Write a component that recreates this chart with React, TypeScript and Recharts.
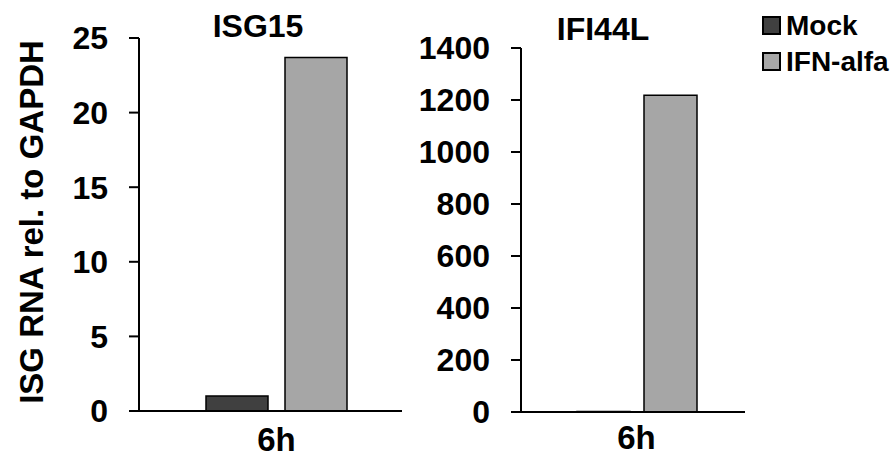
import { BarChart, Bar, XAxis, YAxis } from 'recharts';

const timepoints = ['6h'];
const seriesNames = ['Mock', 'IFN-alfa'];
const seriesColors = ['#404040', '#a6a6a6'];

const isg15Mock = [1.0];
const isg15Ifn = [23.7];
const isg15Ticks = [0, 5, 10, 15, 20, 25];

const ifi44lMock = [2];
const ifi44lIfn = [1218];
const ifi44lTicks = [0, 200, 400, 600, 800, 1000, 1200, 1400];

const FONT = '"Liberation Sans", Arial, sans-serif';

const buildRows = (mock: number[], ifn: number[]) =>
    timepoints.map((t, i) => ({ time: t, mock: mock[i], ifn: ifn[i] }));

interface PanelProps {
    left: number;
    width: number;
    rows: { time: string; mock: number; ifn: number }[];
    ticks: number[];
    margin: { top: number; right: number; left: number; bottom: number };
    yWidth: number;
    padLeft: number;
    barSize: number;
    barGap: number;
    xTickMargin: number;
}

function Panel({ left, width, rows, ticks, margin, yWidth, padLeft, barSize, barGap, xTickMargin }: PanelProps) {
    const axisLine = { stroke: '#000', strokeWidth: 2 };
    return (
        <div style={{ position: 'absolute', left, top: 0 }}>
            <BarChart width={width} height={459} data={rows} margin={margin} barGap={barGap}>
                <XAxis
                    dataKey="time"
                    height={30}
                    tickLine={false}
                    axisLine={axisLine}
                    tickSize={10}
                    tickMargin={xTickMargin}
                    padding={{ left: padLeft, right: 0 }}
                    tick={{ fill: '#000', fontSize: 33, fontWeight: 'bold', fontFamily: FONT }}
                />
                <YAxis
                    width={yWidth}
                    domain={[0, ticks[ticks.length - 1]]}
                    ticks={ticks}
                    interval={0}
                    axisLine={axisLine}
                    tickLine={axisLine}
                    tickSize={10}
                    tickMargin={21}
                    tick={{ fill: '#000', fontSize: 32, fontWeight: 'bold', fontFamily: FONT }}
                />
                <Bar dataKey="mock" name={seriesNames[0]} fill={seriesColors[0]} stroke="#000" strokeWidth={1.5} barSize={barSize} isAnimationActive={false} />
                <Bar dataKey="ifn" name={seriesNames[1]} fill={seriesColors[1]} stroke="#000" strokeWidth={1.5} barSize={barSize} isAnimationActive={false} />
            </BarChart>
        </div>
    );
}

export default function App() {
    const textStyle = { fontFamily: FONT, fontWeight: 'bold' as const, fill: '#000' };
    return (
        <div style={{ position: 'absolute', left: 0, top: 0, width: 894, height: 459, background: '#fff' }}>
            <Panel
                left={0}
                width={420}
                rows={buildRows(isg15Mock, isg15Ifn)}
                ticks={isg15Ticks}
                margin={{ top: 38, right: 18, left: 0, bottom: 18 }}
                yWidth={139}
                padLeft={12}
                barSize={62}
                barGap={17}
                xTickMargin={7}
            />
            <Panel
                left={420}
                width={340}
                rows={buildRows(ifi44lMock, ifi44lIfn)}
                ticks={ifi44lTicks}
                margin={{ top: 48, right: 15, left: 1, bottom: 17 }}
                yWidth={100}
                padLeft={7}
                barSize={53}
                barGap={14}
                xTickMargin={4}
            />
            <svg width={894} height={459} style={{ position: 'absolute', left: 0, top: 0, pointerEvents: 'none' }}>
                <text x={258} y={37} textAnchor="middle" fontSize={32} {...textStyle}>ISG15</text>
                <text x={603} y={40} textAnchor="middle" fontSize={32} {...textStyle}>IFI44L</text>
                <text
                    transform="translate(43,222) rotate(-90)"
                    textAnchor="middle"
                    fontSize={33}
                    {...textStyle}
                >
                    ISG RNA rel. to GAPDH
                </text>
                {seriesNames.map((name, i) => (
                    <g key={name}>
                        <rect x={763} y={17 + i * 36} width={17} height={17} fill={seriesColors[i]} stroke="#000" strokeWidth={2} />
                        <text x={786} y={35 + i * 36} fontSize={28} {...textStyle}>{name}</text>
                    </g>
                ))}
            </svg>
        </div>
    );
}
